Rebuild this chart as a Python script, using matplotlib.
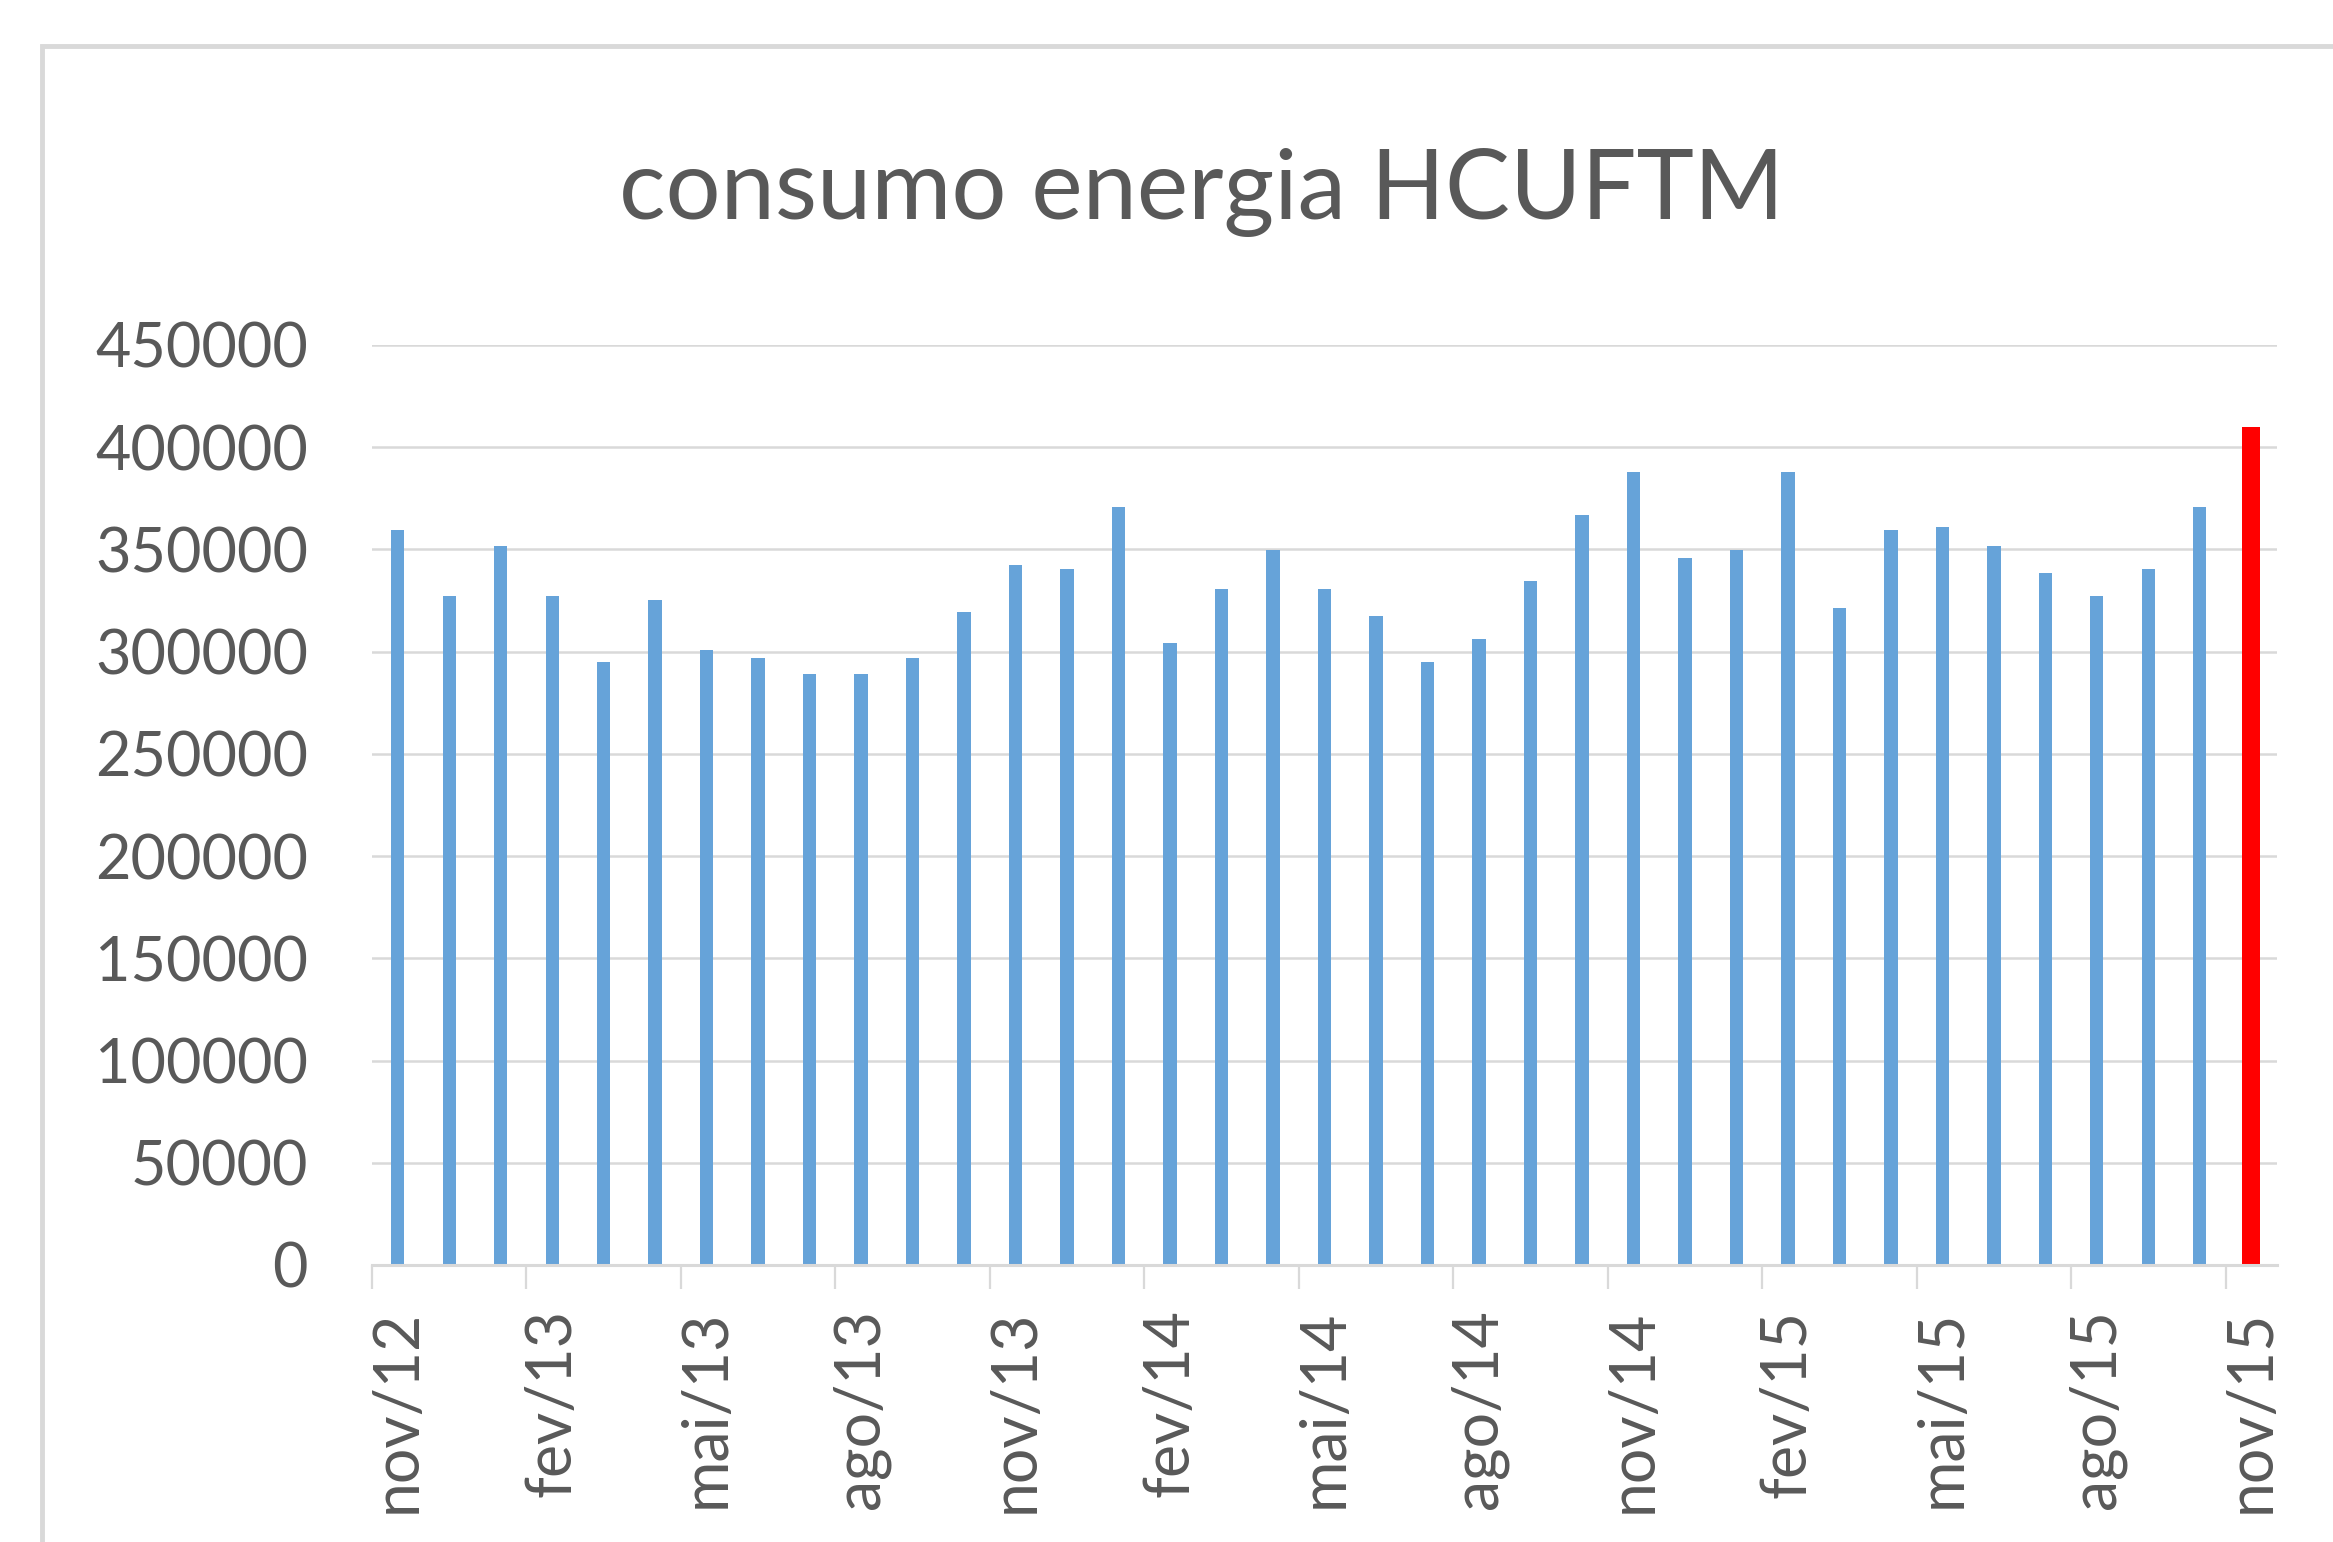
import matplotlib.pyplot as plt
from matplotlib.patches import Rectangle

# consumo mensal de energia (kWh) - nov/12 a nov/15
meses = ['nov/12', 'dez/12', 'jan/13', 'fev/13', 'mar/13', 'abr/13', 'mai/13',
         'jun/13', 'jul/13', 'ago/13', 'set/13', 'out/13', 'nov/13', 'dez/13',
         'jan/14', 'fev/14', 'mar/14', 'abr/14', 'mai/14', 'jun/14', 'jul/14',
         'ago/14', 'set/14', 'out/14', 'nov/14', 'dez/14', 'jan/15', 'fev/15',
         'mar/15', 'abr/15', 'mai/15', 'jun/15', 'jul/15', 'ago/15', 'set/15',
         'out/15', 'nov/15']
consumo = [359500, 327200, 351600, 327200, 295000, 325300, 300800,
           296900, 289200, 289200, 296900, 319400, 342300, 340400,
           370600, 304300, 330600, 349600, 330600, 317400, 295000,
           306200, 334500, 366700, 387700, 345700, 349600, 387700,
           321300, 359500, 360800, 351600, 338400, 327200, 340400,
           370600, 410100]

plt.rcParams['font.family'] = ['Lato', 'DejaVu Sans']
cinza = '#595959'
linha = '#D9D9D9'

fig = plt.figure(figsize=(23.33, 15.42), dpi=100)

# moldura do gráfico (cortada à direita e embaixo)
fig.patches.append(Rectangle((42 / 2333, -0.1), 1.2, 1 - 46 / 1542 + 0.1,
                             transform=fig.transFigure, fill=False,
                             edgecolor=linha, linewidth=3.5))

ax = fig.add_axes([372 / 2333, 1 - 1265 / 1542, 1905 / 2333, 920 / 1542])

n = len(meses)
x = range(n)
cores = ['#66A3D9'] * (n - 1) + ['#FF0000']
larguras = [0.26] * (n - 1) + [0.35]
ax.bar(x, consumo, width=larguras, color=cores, zorder=3)

ax.set_xlim(-0.5, n - 0.5)
ax.set_ylim(0, 450000)
ax.set_yticks(range(0, 450001, 50000))
ax.yaxis.grid(True, color=linha, linewidth=1.8)
ax.set_axisbelow(True)

for lado in ['left', 'right', 'top']:
    ax.spines[lado].set_visible(False)
ax.spines['bottom'].set_color(linha)
ax.spines['bottom'].set_linewidth(2.2)
ax.spines['bottom'].set_zorder(4)

ax.tick_params(axis='y', length=0, pad=46, labelsize=44, labelcolor=cinza)

# marcas entre categorias a cada 3 meses, rótulos no centro
ax.set_xticks([i - 0.5 for i in range(0, n, 3)])
ax.set_xticklabels([])
ax.tick_params(axis='x', which='major', length=17, width=1.6, color=linha)
ax.set_xticks(list(range(0, n, 3)), minor=True)
ax.set_xticklabels(meses[::3], minor=True, rotation=90)
ax.tick_params(axis='x', which='minor', length=0, pad=32, labelsize=45,
               labelcolor=cinza)

fig.text(0.515, 0.858, 'consumo energia HCUFTM', ha='center', va='baseline',
         fontsize=70, color=cinza)

fig.savefig('out.png', dpi=100)
